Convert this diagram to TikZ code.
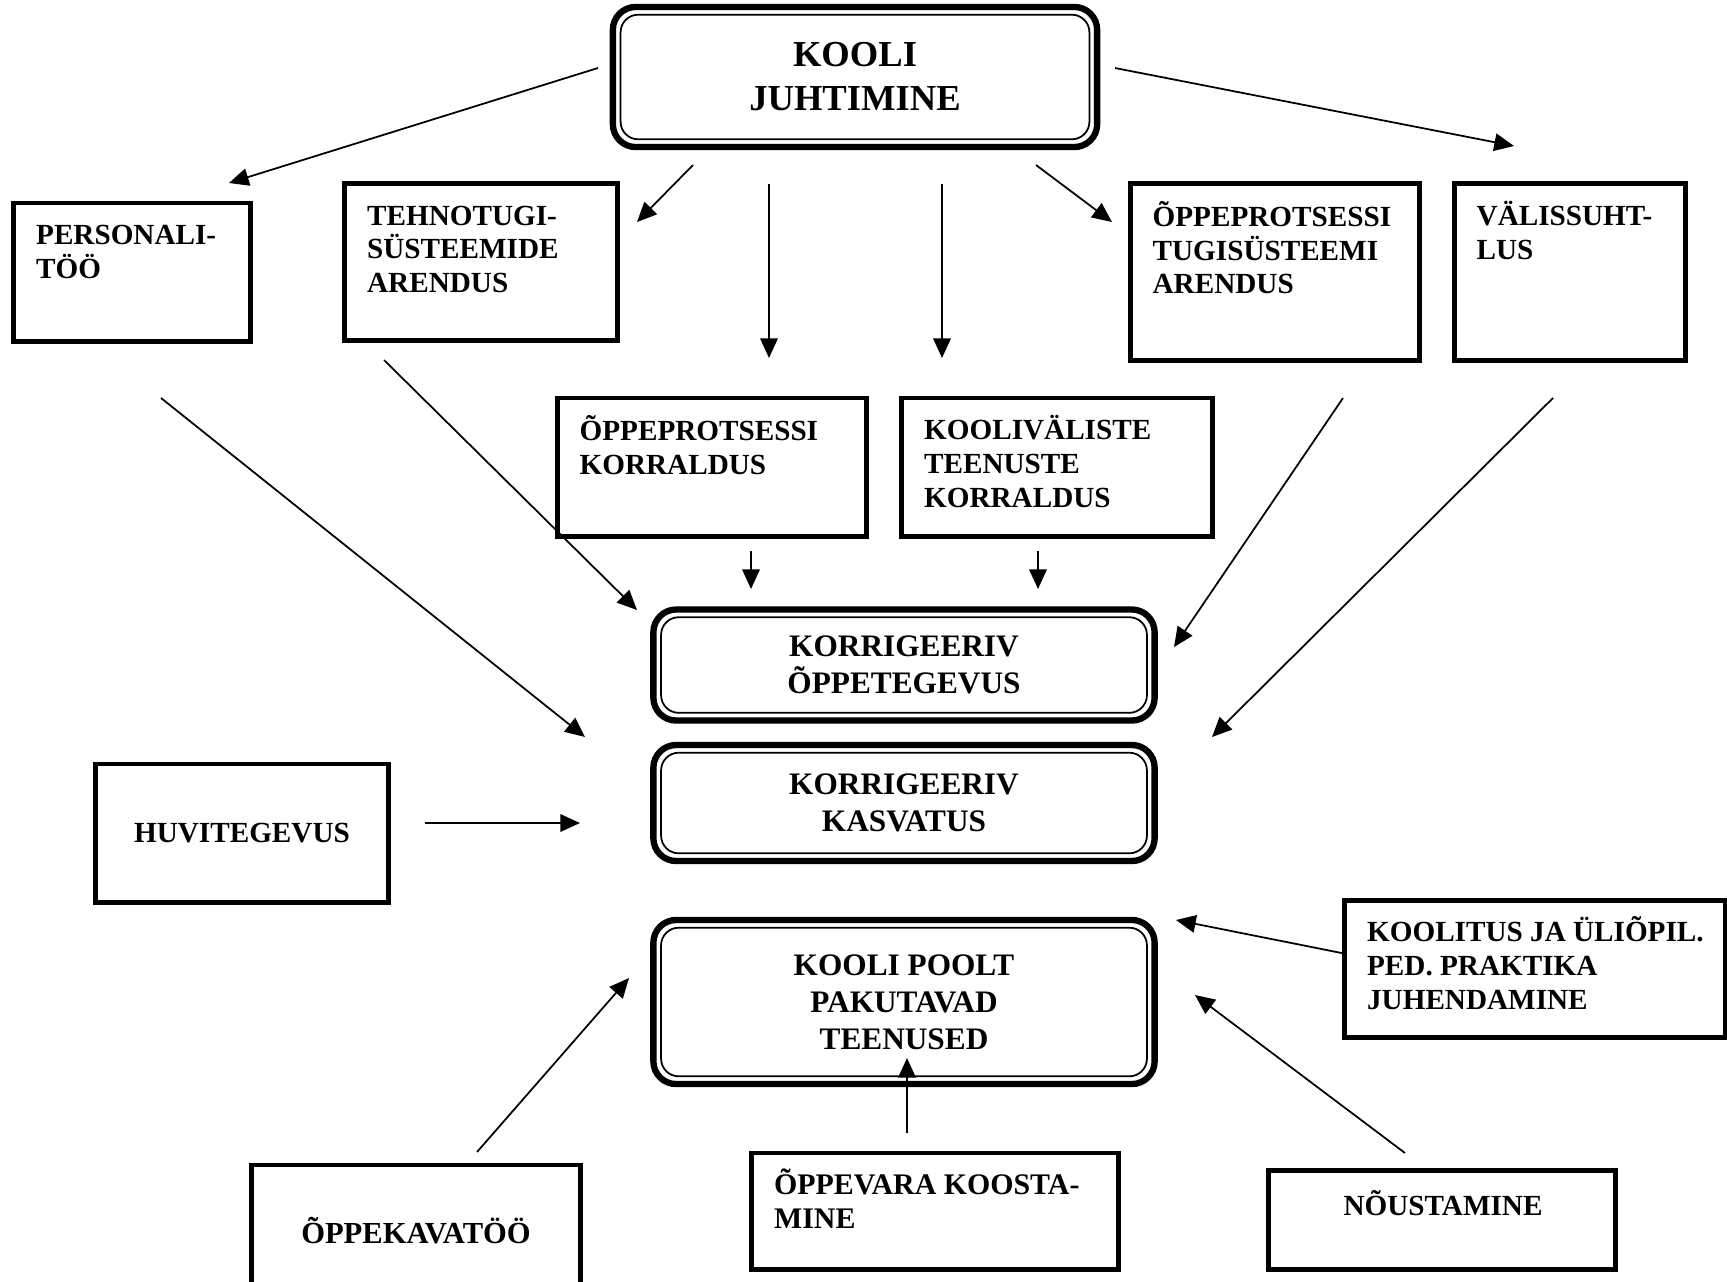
\documentclass[tikz,border=0pt]{standalone}
\usepackage{fontspec}
\setmainfont{Liberation Serif}
\usetikzlibrary{arrows.meta}

\begin{document}
\begin{tikzpicture}[x=0.01cm, y=-0.01cm,
	box/.style={draw, line width=1.4pt, inner sep=0pt},
	dbox/.style={draw, line width=1.8pt, rounded corners=6.5pt, inner sep=0pt, align=center,
		font=\fontsize{8.9}{10.5}\selectfont\bfseries},
	txt/.style={inner sep=0pt, anchor=north west, align=left,
		font=\fontsize{8.3}{9.6}\selectfont\bfseries, execute at begin node={\rule{0pt}{8pt}}},
	ctxt/.style={inner sep=0pt, align=center, font=\fontsize{8.3}{9.6}\selectfont\bfseries},
	arr/.style={-{Triangle[length=5.6pt,width=5pt]}, line width=0.5pt}]
	
	\useasboundingbox (0,0) rectangle (1727,1281);
	
	% head box
	\node[dbox, minimum width=4.84cm, minimum height=1.40cm, font=\fontsize{10.4}{12.5}\selectfont\bfseries]
		(juht) at (855,77) {KOOLI\\JUHTIMINE};
	
	% first row
	\node[box, minimum width=2.36cm, minimum height=1.38cm] (pers) at (132,272) {};
	\node[box, minimum width=2.72cm, minimum height=1.57cm] (tehno) at (481,262) {};
	\node[box, minimum width=2.89cm, minimum height=1.76cm] (tugi) at (1275,272) {};
	\node[box, minimum width=2.31cm, minimum height=1.76cm] (valis) at (1570,272) {};
	\node[txt] (pers-t) at ([shift={(24,24)}]pers.north west) {PERSONALI-\\TÖÖ};
	\node[txt] (tehno-t) at ([shift={(24,24)}]tehno.north west) {TEHNOTUGI-\\SÜSTEEMIDE\\ARENDUS};
	\node[txt] (tugi-t) at ([shift={(24,19)}]tugi.north west) {ÕPPEPROTSESSI\\TUGISÜSTEEMI\\ARENDUS};
	\node[txt] (valis-t) at ([shift={(24,19)}]valis.north west) {VÄLISSUHT-\\LUS};
	
	% second row
	\node[box, minimum width=3.09cm, minimum height=1.38cm] (korr) at (712,467) {};
	\node[box, minimum width=3.10cm, minimum height=1.38cm] (kvt) at (1057,467) {};
	\node[txt] (korr-t) at ([shift={(24,19)}]korr.north west) {ÕPPEPROTSESSI\\KORRALDUS};
	\node[txt] (kvt-t) at ([shift={(24,19)}]kvt.north west) {KOOLIVÄLISTE\\TEENUSTE\\KORRALDUS};
	
	% middle column
	\node[dbox, minimum width=5.01cm, minimum height=1.11cm] (ope) at (904,665) {KORRIGEERIV\\ÕPPETEGEVUS};
	\node[dbox, minimum width=5.01cm, minimum height=1.16cm] (kasv) at (904,803) {KORRIGEERIV\\KASVATUS};
	\node[dbox, minimum width=5.01cm, minimum height=1.64cm] (teen) at (904,1002) {KOOLI POOLT\\PAKUTAVAD\\TEENUSED};
	\foreach \n in {juht,ope,kasv,teen}
		\draw[line width=0.5pt, rounded corners=5pt] ([xshift=3.1pt,yshift=-3.1pt]\n.north west)
			rectangle ([xshift=-3.1pt,yshift=3.1pt]\n.south east);
	
	% side and bottom boxes
	\node[box, ctxt, minimum width=2.93cm, minimum height=1.38cm] (huvi) at (242,833) {HUVITEGEVUS};
	\node[box, minimum width=3.80cm, minimum height=1.37cm] (koolitus) at (1535,969) {};
	\node[txt] (koolitus-t) at ([shift={(24,18)}]koolitus.north west) {KOOLITUS JA ÜLIÕPIL.\\PED. PRAKTIKA\\JUHENDAMINE};
	\node[box, ctxt, minimum width=3.29cm, minimum height=1.32cm, font=\fontsize{8.7}{10}\selectfont\bfseries]
		(okava) at (416,1231) {ÕPPEKAVATÖÖ};
	\node[box, minimum width=3.66cm, minimum height=1.16cm] (ovara) at (935,1211) {};
	\node[txt, font=\fontsize{8.5}{9.6}\selectfont\bfseries] (ovara-t) at ([shift={(24,18)}]ovara.north west) {ÕPPEVARA KOOSTA-\\MINE};
	\node[box, minimum width=3.46cm, minimum height=0.99cm] (nous) at (1442,1220) {};
	\node[ctxt] (nous-t) at (1443,1203) {NÕUSTAMINE};
	
	% arrow ends
	\coordinate (j-pers) at (598,68);   \coordinate (to-pers) at (229,183);
	\coordinate (j-tehno) at (693,165); \coordinate (to-tehno) at (637,222);
	\coordinate (j-korr) at (769,184);  \coordinate (to-korr) at (769,358);
	\coordinate (j-kvt) at (942,184);   \coordinate (to-kvt) at (942,358);
	\coordinate (j-tugi) at (1036,165); \coordinate (to-tugi) at (1112,222);
	\coordinate (j-valis) at (1115,68); \coordinate (to-valis) at (1514,146);
	\coordinate (pers-o) at (161,398);  \coordinate (kasv-l) at (585,737);
	\coordinate (tehno-o) at (384,360); \coordinate (ope-l) at (637,610);
	\coordinate (korr-o) at (751,551);  \coordinate (ope-a) at (751,589);
	\coordinate (kvt-o) at (1038,551);  \coordinate (ope-b) at (1038,589);
	\coordinate (tugi-o) at (1343,398); \coordinate (ope-r) at (1174,647);
	\coordinate (valis-o) at (1553,398); \coordinate (kasv-r) at (1212,737);
	\coordinate (huvi-o) at (425,823);  \coordinate (kasv-h) at (580,823);
	\coordinate (nous-o) at (1405,1153); \coordinate (teen-n) at (1195,995);
	\coordinate (okava-o) at (477,1152); \coordinate (teen-l) at (629,978);
	\coordinate (ovara-o) at (907,1133); \coordinate (teen-b) at (907,1058);
	\coordinate (teen-k) at (1176,920);
	
	% arrows
	\draw[arr] (j-pers) -- (to-pers);
	\draw[arr] (j-tehno) -- (to-tehno);
	\draw[arr] (j-korr) -- (to-korr);
	\draw[arr] (j-kvt) -- (to-kvt);
	\draw[arr] (j-tugi) -- (to-tugi);
	\draw[arr] (j-valis) -- (to-valis);
	\draw[arr] (pers-o) -- (kasv-l);
	\draw[arr] (tehno-o) -- (ope-l);
	\draw[arr] (korr-o) -- (ope-a);
	\draw[arr] (kvt-o) -- (ope-b);
	\draw[arr] (tugi-o) -- (ope-r);
	\draw[arr] (valis-o) -- (kasv-r);
	\draw[arr] (huvi-o) -- (kasv-h);
	\draw[arr] ([yshift=4.5pt]koolitus.west) -- (teen-k);
	\draw[arr] (nous-o) -- (teen-n);
	\draw[arr] (okava-o) -- (teen-l);
	\draw[arr] (ovara-o) -- (teen-b);
	
\end{tikzpicture}
\end{document}
